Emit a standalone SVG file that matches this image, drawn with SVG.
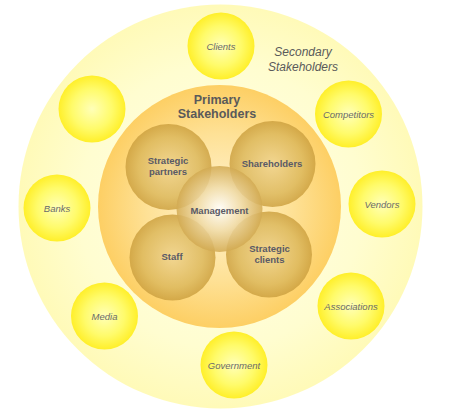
<svg xmlns="http://www.w3.org/2000/svg" width="472" height="411" viewBox="0 0 472 411">
<defs>
<radialGradient id="gOuter" cx="50%" cy="50%" r="50%">
<stop offset="0" stop-color="#FFFFEA"/>
<stop offset="0.7" stop-color="#FFFDD0"/>
<stop offset="1" stop-color="#FFFAB8"/>
</radialGradient>
<radialGradient id="gPrimary" cx="50%" cy="50%" r="50%">
<stop offset="0" stop-color="#FFF3D2"/>
<stop offset="0.6" stop-color="#FEE196"/>
<stop offset="1" stop-color="#FDCF64"/>
</radialGradient>
<radialGradient id="gSec" cx="50%" cy="50%" r="50%">
<stop offset="0" stop-color="#FFFFB8"/>
<stop offset="0.6" stop-color="#FFFB6A"/>
<stop offset="1" stop-color="#FFEF2A"/>
</radialGradient>
<radialGradient id="gInner" cx="50%" cy="50%" r="50%">
<stop offset="0" stop-color="#EFD38E"/>
<stop offset="0.7" stop-color="#DBB75B"/>
<stop offset="1" stop-color="#CB9F3E"/>
</radialGradient>
<radialGradient id="gMgmt" cx="50%" cy="50%" r="50%">
<stop offset="0" stop-color="#FFFFFF"/>
<stop offset="0.5" stop-color="#F0DCAA"/>
<stop offset="1" stop-color="#D2AA52"/>
</radialGradient>
<style>
.sec{fill:url(#gSec)}
.inner{fill:url(#gInner);fill-opacity:0.82}
.mg{fill:url(#gMgmt);fill-opacity:0.85}
.secl{font-family:"Liberation Sans",Arial,sans-serif;font-style:italic;font-size:9.5px;fill:#6A6A6A;text-anchor:middle}
.inl{font-family:"Liberation Sans",Arial,sans-serif;font-weight:bold;font-size:9.5px;fill:#5A5A66;text-anchor:middle}
.h1{font-family:"Liberation Sans",Arial,sans-serif;font-weight:bold;font-size:12.5px;fill:#5A5A5A;text-anchor:middle}
.h2{font-family:"Liberation Sans",Arial,sans-serif;font-style:italic;font-size:12px;fill:#5A5A5A;text-anchor:middle}
</style>
</defs>
<rect width="472" height="411" fill="#FFFFFF"/>
<g id="secondary-area">
<circle cx="220.5" cy="206.5" r="202" fill="url(#gOuter)"/>
<text class="h2" x="303" y="56">Secondary</text>
<text class="h2" x="303" y="71">Stakeholders</text>
</g>
<g id="node-clients"><circle class="sec" cx="221" cy="46" r="33.5"/><text class="secl" x="221" y="50">Clients</text></g>
<g id="node-empty"><circle class="sec" cx="92" cy="109" r="33.5"/></g>
<g id="node-competitors"><circle class="sec" cx="348.5" cy="114" r="33.5"/><text class="secl" x="348.5" y="118">Competitors</text></g>
<g id="node-banks"><circle class="sec" cx="57" cy="208" r="33.5"/><text class="secl" x="57" y="212">Banks</text></g>
<g id="node-vendors"><circle class="sec" cx="382" cy="204" r="33.5"/><text class="secl" x="382" y="208">Vendors</text></g>
<g id="node-media"><circle class="sec" cx="104.5" cy="316" r="33.5"/><text class="secl" x="104.5" y="320">Media</text></g>
<g id="node-associations"><circle class="sec" cx="351" cy="306" r="33.5"/><text class="secl" x="351" y="310">Associations</text></g>
<g id="node-government"><circle class="sec" cx="234" cy="365" r="33.5"/><text class="secl" x="234" y="369">Government</text></g>
<g id="primary-area">
<circle cx="219.5" cy="206.5" r="121.5" fill="url(#gPrimary)"/>
<text class="h1" x="217" y="104">Primary</text>
<text class="h1" x="217" y="118">Stakeholders</text>
</g>
<g id="node-strategic-partners"><circle class="inner" cx="168.5" cy="167" r="43"/></g>
<g id="node-shareholders"><circle class="inner" cx="272.5" cy="164" r="43"/></g>
<g id="node-staff"><circle class="inner" cx="172.5" cy="257.5" r="43"/></g>
<g id="node-strategic-clients"><circle class="inner" cx="269" cy="254.5" r="43"/></g>
<g id="node-management"><circle class="mg" cx="219.5" cy="209" r="43"/></g>
<g id="labels">
<text class="inl" x="168" y="164">Strategic</text>
<text class="inl" x="168" y="175">partners</text>
<text class="inl" x="272" y="167">Shareholders</text>
<text class="inl" x="219.5" y="214">Management</text>
<text class="inl" x="172" y="260">Staff</text>
<text class="inl" x="269.5" y="252">Strategic</text>
<text class="inl" x="269.5" y="263">clients</text>
</g>
<g id="connectors"></g>
</svg>
